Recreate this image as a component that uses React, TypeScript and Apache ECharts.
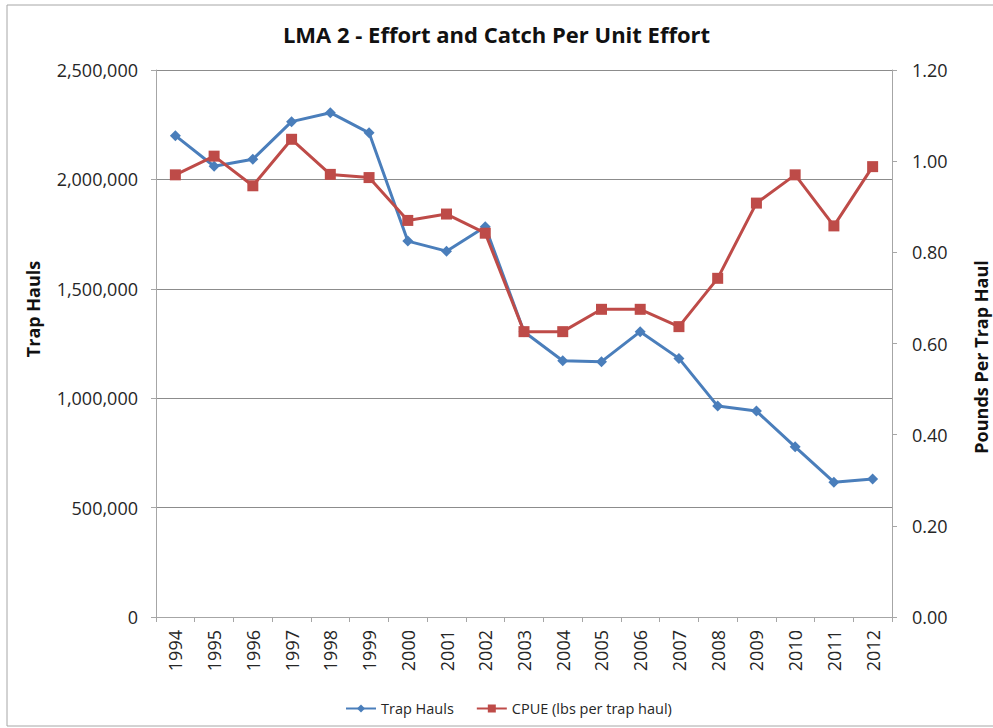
import React, { useEffect, useRef } from "react";
import * as echarts from "echarts";

const years = ["1994","1995","1996","1997","1998","1999","2000","2001","2002","2003","2004","2005","2006","2007","2008","2009","2010","2011","2012"];
const trapHauls = [2200000,2060000,2092000,2264000,2305000,2213000,1718000,1672000,1784000,1304000,1171000,1167000,1304000,1182000,964000,941000,778000,616000,631000];
const cpue = [0.970,1.011,0.946,1.048,0.971,0.964,0.870,0.884,0.842,0.626,0.626,0.675,0.675,0.637,0.743,0.908,0.970,0.858,0.988];

const titleText = "LMA 2 - Effort and Catch Per Unit Effort";
const leftAxisName = "Trap Hauls";
const rightAxisName = "Pounds Per Trap Haul";
const seriesNames = ["Trap Hauls", "CPUE (lbs per trap haul)"];

const FONT = "'Open Sans', Lato, sans-serif";

export default function App() {
  const ref = useRef<HTMLDivElement>(null);
  useEffect(() => {
    if (!ref.current) return;
    const chart = echarts.init(ref.current, undefined, { renderer: "svg" });
    const labelColor = "#262626";
    chart.setOption({
      animation: false,
      backgroundColor: "#ffffff",
      textStyle: { fontFamily: FONT },
      title: {
        text: titleText,
        left: "center",
        top: 18,
        textStyle: { fontFamily: FONT, fontSize: 22, fontWeight: "bold", color: "#111" },
      },
      graphic: [
        {
          type: "rect",
          shape: { x: 7, y: 5, width: 1000, height: 721 },
          style: { fill: "none", stroke: "#a6a6a6", lineWidth: 1 },
          silent: true,
          z: -1,
        },
        {
          type: "text",
          x: 33,
          y: 309,
          rotation: Math.PI / 2,
          style: {
            text: leftAxisName,
            fontFamily: FONT,
            fontSize: 18,
            fontWeight: "bold",
            fill: "#111",
            textAlign: "center",
            textVerticalAlign: "middle",
          },
        },
        {
          type: "text",
          x: 981,
          y: 357,
          rotation: Math.PI / 2,
          style: {
            text: rightAxisName,
            fontFamily: FONT,
            fontSize: 18,
            fontWeight: "bold",
            fill: "#111",
            textAlign: "center",
            textVerticalAlign: "middle",
          },
        },
      ],
      legend: {
        left: 340,
        top: 696,
        itemWidth: 30,
        itemHeight: 10,
        itemGap: 22,
        textStyle: { fontFamily: FONT, fontSize: 14.5, color: labelColor },
        data: seriesNames,
      },
      grid: { left: 156, right: 101, top: 70, bottom: 111, containLabel: false },
      xAxis: {
        type: "category",
        data: years,
        boundaryGap: true,
        axisLine: { lineStyle: { color: "#a6a6a6", width: 1 } },
        axisTick: { show: true, alignWithLabel: false, length: 5, lineStyle: { color: "#a6a6a6" } },
        axisLabel: {
          rotate: 90,
          interval: 0,
          margin: 13,
          fontFamily: FONT,
          fontSize: 18,
          color: labelColor,
        },
      },
      yAxis: [
        {
          type: "value",
          min: 0,
          max: 2500000,
          interval: 500000,
          position: "left",
          axisLine: { show: true, lineStyle: { color: "#a6a6a6", width: 1 } },
          axisTick: { show: true, length: 5, lineStyle: { color: "#a6a6a6" } },
          splitLine: { show: true, lineStyle: { color: "#8c8c8c", width: 1 } },
          axisLabel: {
            margin: 18,
            fontFamily: FONT,
            fontSize: 18,
            color: labelColor,
            formatter: (v: number) => v.toLocaleString("en-US"),
          },
        },
        {
          type: "value",
          min: 0,
          max: 1.2,
          interval: 0.2,
          position: "right",
          axisLine: { show: true, lineStyle: { color: "#a6a6a6", width: 1 } },
          axisTick: { show: true, length: 5, lineStyle: { color: "#a6a6a6" } },
          splitLine: { show: false },
          axisLabel: {
            margin: 20,
            fontFamily: FONT,
            fontSize: 18,
            color: labelColor,
            formatter: (v: number) => v.toFixed(2),
          },
        },
      ],
      series: [
        {
          name: seriesNames[0],
          type: "line",
          yAxisIndex: 0,
          data: trapHauls,
          symbol: "diamond",
          symbolSize: 11,
          lineStyle: { color: "#4A7EBB", width: 3 },
          itemStyle: { color: "#4A7EBB" },
          z: 2,
        },
        {
          name: seriesNames[1],
          type: "line",
          yAxisIndex: 1,
          data: cpue,
          symbol: "rect",
          symbolSize: 11,
          lineStyle: { color: "#BE4B48", width: 3 },
          itemStyle: { color: "#BE4B48" },
          z: 3,
        },
      ],
    });
    return () => chart.dispose();
  }, []);
  return <div ref={ref} style={{ position: "fixed", left: 0, top: 0, width: 993, height: 728 }} />;
}
